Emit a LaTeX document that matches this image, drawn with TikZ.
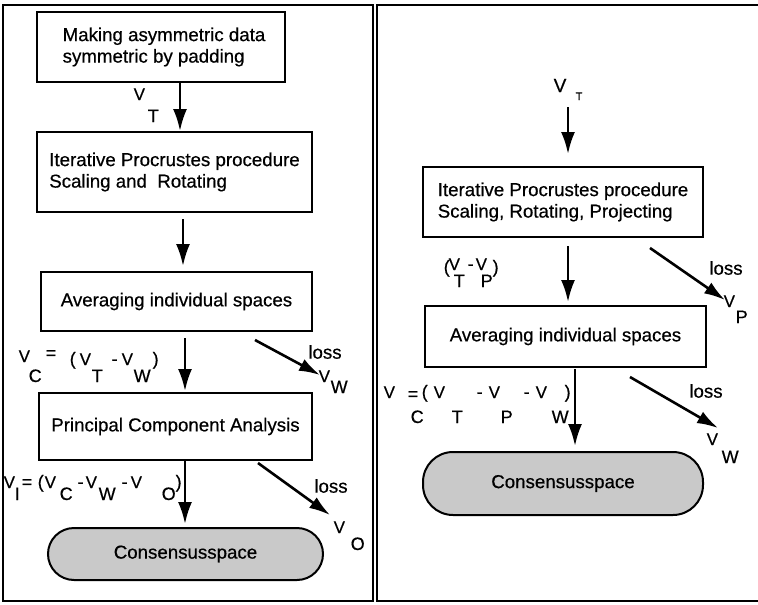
\documentclass[tikz,border=0pt]{standalone}
\usepackage{fontspec}
\setmainfont{Liberation Sans}[FakeBold=0.5]
\usetikzlibrary{arrows.meta,calc}
\newcommand{\pc}[3]{\makebox[0pt][l]{\hspace{#1pt}\raisebox{#2pt}{#3}}}
\newcommand{\VV}{{\fontsize{17}{17}\selectfont V}}
\newcommand{\fs}{\fontsize{18.7}{21.5}\selectfont}
\newcommand{\ls}{\fontsize{18}{18}\selectfont}
\begin{document}
\begin{tikzpicture}[x=1pt,y=-1pt,
  box/.style={draw, line width=2pt, inner sep=0pt, align=left, font=\fs},
  cons/.style={draw, line width=2pt, fill=gray!42, inner sep=0pt, font=\fs},
  arr/.style={line width=2.6pt, -{Latex[length=22pt,width=14pt]}},
  larr/.style={line width=2.6pt, -{Latex[length=21pt,width=13pt]}},
  lbl/.style={font=\ls, inner sep=0pt, anchor=base west},
  losst/.style={font=\fs, inner sep=0pt},
  frame/.style={line width=2.5pt}]
\useasboundingbox (0,0) rectangle (758,605);
% panels
\draw[frame] (3,5) rectangle (373,601);
\draw[frame] (758,5) -- (377,5) -- (377,601) -- (758,601);

% ---------- left panel ----------
\node[box, minimum width=248pt, minimum height=70pt] (b1) at (161,47)
  {\hspace*{6pt}Making asymmetric data\\\hspace*{6pt}symmetric by padding};
\node[box, minimum width=275pt, minimum height=80pt] (b2) at (174.5,172)
  {Iterative Procrustes procedure\\Scaling and\ \ Rotating};
\node[box, minimum width=271pt, minimum height=59pt] (b3) at (176.5,301.5)
  {Averaging individual spaces};
\node[box, minimum width=273pt, minimum height=67pt] (b4) at (175.5,426.5)
  {Principal Component Analysis};
\node[cons, minimum width=275pt, minimum height=52pt, rounded corners=26pt] (c1) at (185.5,554)
  {Consensusspace};

\coordinate (xa) at (180,0);
\coordinate (xb) at (183,0);
\coordinate (xc) at (185,0);
\draw[arr] (b1.south -| xa) -- (b2.north -| xa);
\draw[arr, shorten <=6pt, shorten >=5pt] (b2.south -| xb) -- (b3.north -| xb);
\draw[arr, shorten <=6pt, shorten >=1pt] (b3.south -| xc) -- (b4.north -| xc);
\draw[arr, shorten >=3pt] (b4.south -| xc) -- (c1.north -| xc);

\coordinate (l1s) at (255,340);
\coordinate (l1e) at (320,375);
\draw[larr] (l1s) -- (l1e);
\coordinate (l2s) at (258,463);
\coordinate (l2e) at (330,515);
\draw[larr] (l2s) -- (l2e);

\node[lbl] (lT) at (133,100) {\pc{0}{0}{\VV}\pc{14}{-22}{T}};
\node[lbl] (lC) at (18,362) {\pc{0}{0}{\VV}\pc{10}{-20}{C}\pc{27}{3}{=}\pc{51}{-3}{(}\pc{61}{-3}{\VV}\pc{73}{-20}{T}\pc{93}{-3}{-}\pc{103}{-3}{\VV}\pc{115}{-20}{W}\pc{134}{-3}{)}};
\node[lbl] (lI) at (3,488) {\pc{0}{0}{\VV}\pc{11}{-12}{I}\pc{18}{0}{=}\pc{34}{0}{(}\pc{41}{0}{\VV}\pc{56}{-12}{C}\pc{74}{0}{-}\pc{82}{0}{\VV}\pc{95}{-12}{W}\pc{118}{0}{-}\pc{127}{0}{\VV}\pc{158}{-12}{O}\pc{172}{0}{)}};
\node[losst] (loss1) at (325,352) {loss};
\node[lbl] (lW) at (318,382) {\pc{0}{0}{\VV}\pc{12}{-11}{W}};
\node[losst] (loss2) at (331,486) {loss};
\node[lbl] (lO) at (333,533) {\pc{0}{0}{\VV}\pc{17}{-17}{O}};

% ---------- right panel ----------
\node[box, minimum width=280pt, minimum height=70pt] (r1) at (563,202)
  {Iterative Procrustes procedure\\Scaling, Rotating, Projecting};
\node[box, minimum width=281pt, minimum height=61pt] (r2) at (565.5,336.5)
  {Averaging individual spaces};
\node[cons, minimum width=280pt, minimum height=63pt, rounded corners=30pt] (c2) at (563,483.5)
  {Consensusspace};

\node[lbl] (rT) at (553,92) {\pc{0}{0}{\fontsize{19}{19}\selectfont V}\pc{22}{-8}{\fontsize{11}{11}\selectfont T}};
\coordinate (xr) at (568,0);
\coordinate (xs) at (575,0);
\coordinate (rts) at (568,107);
\draw[arr, shorten >=12pt] (rts) -- (r1.north -| xr);
\draw[arr, shorten <=8pt, shorten >=3pt] (r1.south -| xr) -- (r2.north -| xr);
\draw[arr, shorten <=1pt, shorten >=5pt] (r2.south -| xs) -- (c2.north -| xs);

\node[lbl] (rTP) at (443,270) {\pc{0}{-3}{(}\pc{5}{0}{\VV}\pc{10}{-17}{T}\pc{24}{0}{-}\pc{32}{0}{\VV}\pc{37}{-17}{P}\pc{49}{-3}{)}};
\node[lbl] (rC) at (383,398) {\pc{0}{0}{\VV}\pc{27}{-25}{C}\pc{24}{-2}{=}\pc{38}{0}{(}\pc{50}{0}{\VV}\pc{68}{-25}{T}\pc{93}{0}{-}\pc{105}{0}{\VV}\pc{117}{-25}{P}\pc{140}{0}{-}\pc{152}{0}{\VV}\pc{168}{-25}{W}\pc{181}{0}{)}};

\coordinate (r1s) at (650,248);
\coordinate (r1e) at (725,300);
\draw[larr] (r1s) -- (r1e);
\coordinate (r2s) at (630,377);
\coordinate (r2e) at (718,428);
\draw[larr] (r2s) -- (r2e);

\node[losst] (loss3) at (726,268) {loss};
\node[lbl] (rP) at (723,307) {\pc{0}{0}{\VV}\pc{12}{-16}{P}};
\node[losst] (loss4) at (706,391) {loss};
\node[lbl] (rW) at (706,445) {\pc{0}{0}{\VV}\pc{15}{-18}{W}};
\end{tikzpicture}
\end{document}
